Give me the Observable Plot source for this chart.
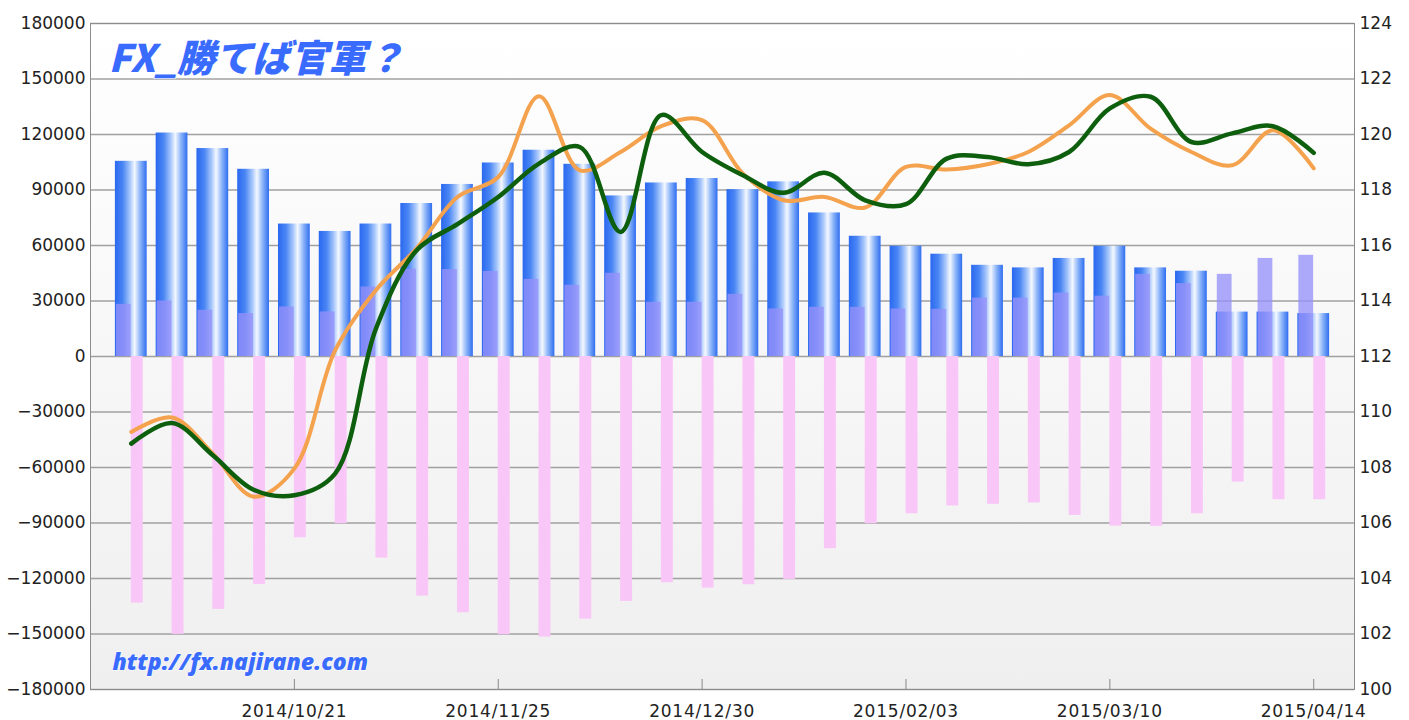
<!DOCTYPE html>
<html>
<head>
<meta charset="utf-8">
<script src="https://cdn.jsdelivr.net/npm/d3@7"></script>
<script src="https://cdn.jsdelivr.net/npm/@observablehq/plot@0.6"></script>
<style>
  html, body { margin: 0; padding: 0; background: #fff; }
  #chart { width: 1409px; height: 720px; }
</style>
</head>
<body>
<div id="chart"></div>
<script>
// ---- data ----
const dates = [
  "2014/09/23","2014/09/30","2014/10/07","2014/10/14","2014/10/21",
  "2014/10/28","2014/11/04","2014/11/11","2014/11/18","2014/11/25",
  "2014/12/02","2014/12/09","2014/12/16","2014/12/23","2014/12/30",
  "2015/01/06","2015/01/13","2015/01/20","2015/01/27","2015/02/03",
  "2015/02/10","2015/02/17","2015/02/24","2015/03/03","2015/03/10",
  "2015/03/17","2015/03/24","2015/03/31","2015/04/07","2015/04/14"
];
const blueBars = [105500, 120800, 112400, 101200, 71600, 67600, 71600, 82700, 93000, 104600,
                  111500, 103900, 86800, 93800, 96200, 90200, 94400, 77600, 65000, 59600,
                  55300, 49300, 47900, 53000, 59600, 47900, 46100, 24000, 24000, 23200];
const longBars = [28200, 30000, 25000, 23200, 26800, 24100, 37600, 47200, 47000, 46000,
                  41700, 38500, 45000, 29300, 29300, 33600, 25700, 26600, 26600, 25700,
                  25500, 31600, 31600, 34300, 32600, 44400, 39400, 44400, 53000, 54700];
const shortBars = [-133300, -150200, -136700, -123200, -98000, -90400, -109000, -129500, -138500, -150400,
                   -151700, -142000, -132400, -122300, -125200, -123400, -120500, -103900, -90400, -85000,
                   -80800, -79900, -79200, -85900, -91700, -91800, -85000, -67900, -77400, -77400];
const greenLine = [108.86, 109.6, 108.44, 107.2, 107.0, 107.78, 113.0, 115.83, 116.77, 117.75,
                   118.95, 119.55, 116.49, 120.7, 119.37, 118.53, 117.9, 118.62, 117.63, 117.49,
                   119.13, 119.19, 118.93, 119.37, 120.94, 121.36, 119.73, 120.04, 120.3, 119.34];
const orangeLine = [109.28, 109.8, 108.5, 106.95, 107.96, 112.22, 114.39, 115.9, 117.75, 118.47,
                    121.38, 118.71, 119.37, 120.3, 120.52, 118.59, 117.63, 117.75, 117.37, 118.83,
                    118.74, 118.93, 119.37, 120.33, 121.42, 120.21, 119.37, 118.89, 120.15, 118.78];
const leftTicks = [-180000, -150000, -120000, -90000, -60000, -30000, 0, 30000, 60000, 90000, 120000, 150000, 180000];
const rightTicks = [100, 102, 104, 106, 108, 110, 112, 114, 116, 118, 120, 122, 124];
const xTickLabels = ["2014/10/21", "2014/11/25", "2014/12/30", "2015/02/03", "2015/03/10", "2015/04/14"];
const titleText = "FX_勝てば官軍？";
const urlText = "http://fx.najirane.com";

// ---- build ----
const rows = dates.map((date, i) => ({
  date, net: blueBars[i], long: longBars[i], short: shortBars[i],
  green: greenLine[i], orange: orangeLine[i]
}));
// right axis (100..124) shares the frame with the left axis (-180000..180000)
const rMid = (rightTicks[0] + rightTicks[rightTicks.length - 1]) / 2;
const rScale = (leftTicks[leftTicks.length - 1] - leftTicks[0]) / (rightTicks[rightTicks.length - 1] - rightTicks[0]);
const toLeft = v => (v - rMid) * rScale;
const toRight = d => Math.round(d / rScale + rMid);
const fmt = d => d < 0 ? "\u2212" + (-d) : String(d);
const tickFont = "'DejaVu Sans', sans-serif";

const svg = Plot.plot({
  width: 1409,
  height: 720,
  marginLeft: 90,
  marginRight: 55,
  marginTop: 23,
  marginBottom: 31,
  style: {fontFamily: tickFont, fontSize: "17px", color: "#222", background: "#fff"},
  x: {type: "band", domain: dates, paddingInner: 0, paddingOuter: 0.5, round: false, label: null},
  y: {domain: [leftTicks[0], leftTicks[leftTicks.length - 1]], label: null},
  marks: [
    Plot.frame({fill: "url(#bgGrad)", stroke: null}),
    Plot.ruleY(leftTicks, {stroke: "#a0a0a0", strokeWidth: 1.5}),
    Plot.barY(rows, {x: "date", y: "net", fill: "url(#barGrad)", insetLeft: 4.5, insetRight: 4.5}),
    Plot.barY(rows, {x: "date", y: "long", fill: "rgba(150,145,250,0.78)", insetLeft: 5.5, insetRight: 20.5}),
    Plot.barY(rows, {x: "date", y: "short", fill: "#f9c7f7", insetLeft: 20.4, insetRight: 8.4}),
    Plot.line(rows, {x: "date", y: d => toLeft(d.orange), stroke: "#f4a24e", strokeWidth: 4, curve: "catmull-rom"}),
    Plot.line(rows, {x: "date", y: d => toLeft(d.green), stroke: "#0d5e0d", strokeWidth: 4.5, curve: "catmull-rom"}),
    Plot.frame({stroke: "#8c8c8c", fill: null}),
    Plot.ruleX(xTickLabels, {x: d => d, insetTop: 656, stroke: "#888"}),
    Plot.axisX(xTickLabels, {tickSize: 0, tickPadding: 15, fill: "#222", label: null}),
    Plot.axisY(leftTicks, {anchor: "left", tickSize: 0, tickPadding: 5, tickFormat: fmt, fill: "#222", label: null}),
    Plot.axisY(rightTicks.map(toLeft), {anchor: "right", tickSize: 0, tickPadding: 5, tickFormat: d => String(toRight(d)), fill: "#222", label: null}),
    Plot.text([titleText], {frameAnchor: "top-left", lineAnchor: "middle", textAnchor: "start", dx: 18, dy: 36,
      fontSize: 38, fontWeight: 900, fontStyle: "italic", fill: "#3a6bff", stroke: "#fff", strokeWidth: 1.5,
      fontFamily: "'Noto Sans CJK JP', sans-serif"}),
    Plot.text([urlText], {frameAnchor: "bottom-left", lineAnchor: "middle", textAnchor: "start", dx: 22, dy: -27,
      fontSize: 23, fontWeight: 900, fontStyle: "italic", fill: "#3a6bff", stroke: "#fff", strokeWidth: 1,
      fontFamily: "'Noto Sans', 'Noto Sans CJK JP', sans-serif"})
  ]
});

// gradients referenced above
const defs = d3.select(svg).insert("defs", ":first-child");
const bg = defs.append("linearGradient").attr("id", "bgGrad").attr("x1", 0).attr("y1", 0).attr("x2", 0).attr("y2", 1);
bg.append("stop").attr("offset", "0%").attr("stop-color", "#ffffff");
bg.append("stop").attr("offset", "100%").attr("stop-color", "#efefef");
const bar = defs.append("linearGradient").attr("id", "barGrad").attr("x1", 0).attr("y1", 0).attr("x2", 1).attr("y2", 0);
[["0%", "#2a68f0"], ["25%", "#4a86f4"], ["48%", "#a9c8fb"], ["62%", "#f4f8ff"], ["80%", "#8ab3f8"], ["100%", "#2f6ef0"]]
  .forEach(([o, c]) => bar.append("stop").attr("offset", o).attr("stop-color", c));
// slightly wider date labels, as in the reference
d3.select(svg).selectAll("g[aria-label='x-axis tick label'] text").style("letter-spacing", "0.8px");

document.getElementById("chart").appendChild(svg);
</script>
</body>
</html>
